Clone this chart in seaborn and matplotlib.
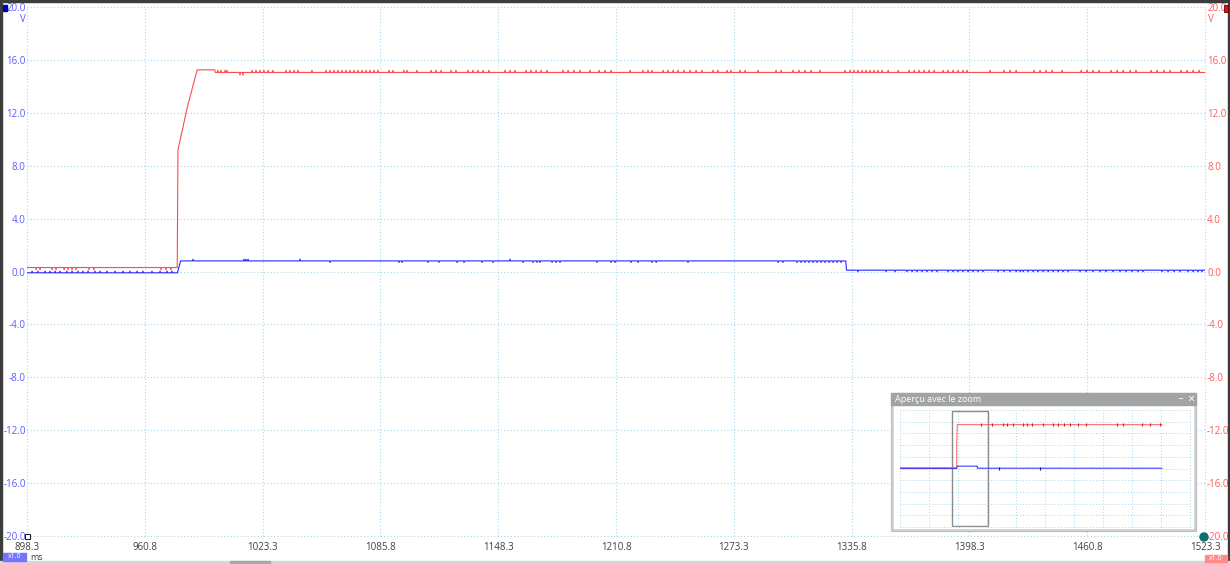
import matplotlib
matplotlib.use("Agg")
import matplotlib.pyplot as plt
import seaborn as sns
from matplotlib.patches import Rectangle, Circle

# ---- data (ms / V) ----
x_ticks = [898.3, 960.8, 1023.3, 1085.8, 1148.3, 1210.8, 1273.3, 1335.8, 1398.3, 1460.8, 1523.3]
y_ticks = [-20, -16, -12, -8, -4, 0, 4, 8, 12, 16, 20]

# channel B (red): idle level, fast rise, plateau with small glitches
red_idle = 0.3
red_idle_dips = [903.1, 905.2, 911.6, 913.7, 918.0, 920.1, 922.2, 924.3, 931.2, 933.8,
                 969.4, 972.1, 974.7]
red_ramp_t = [978.0, 978.4, 983.5, 988.6, 997.9]
red_ramp_v = [0.3, 9.2, 12.5, 15.25, 15.25]
red_level = 15.05
red_spikes = [999.6, 1001.2, 1003.4, 1004.4, 1017.7, 1019.8, 1021.9, 1024.0, 1026.2, 1028.8,
              1035.7, 1037.8, 1040.0, 1042.1, 1049.5, 1056.9, 1059.1, 1061.2, 1063.3, 1065.4,
              1067.6, 1069.7, 1071.8, 1073.9, 1076.1, 1078.2, 1080.3, 1082.4, 1084.5, 1090.4,
              1092.5, 1098.3, 1099.9, 1105.2, 1112.7, 1115.3, 1118.0, 1123.3, 1125.9, 1132.3,
              1134.9, 1137.6, 1140.3, 1143.4, 1151.9, 1154.6, 1157.2, 1163.1, 1165.7, 1168.4,
              1171.0, 1174.2, 1182.7, 1185.4, 1188.5, 1191.7, 1197.0, 1201.8, 1205.0, 1208.2,
              1218.3, 1225.1, 1227.8, 1229.9, 1235.8, 1238.4, 1241.1, 1243.7, 1246.9, 1250.1,
              1253.3, 1256.4, 1262.3, 1264.9, 1269.7, 1271.8, 1276.6, 1279.3, 1286.2, 1295.7,
              1298.4, 1304.7, 1307.9, 1311.1, 1314.3, 1319.1, 1332.3, 1335.0, 1337.1, 1339.2,
              1341.4, 1343.5, 1345.6, 1347.7, 1349.8, 1352.0, 1355.2, 1360.5, 1366.3, 1369.0,
              1371.6, 1374.3, 1376.9, 1379.6, 1384.3, 1387.0, 1389.6, 1392.3, 1394.9, 1397.1,
              1409.3, 1416.7, 1419.9, 1423.1, 1432.6, 1435.8, 1439.0, 1442.2, 1447.5, 1457.6,
              1460.7, 1463.9, 1467.1, 1473.5, 1476.7, 1479.9, 1483.6, 1486.7, 1494.7, 1497.9,
              1501.6, 1504.8, 1510.6, 1513.8, 1517.0, 1520.2]
red_dips = [1011.3, 1012.9]

# channel A (blue)
blue_idle = -0.1
blue_idle_spikes = [901.0, 904.1, 907.9, 910.5, 913.2, 915.8, 919.5, 922.2, 925.4, 928.0,
                    930.7, 934.4, 937.0, 940.7, 945.0, 949.2, 952.9, 956.7, 959.8, 964.6,
                    968.9, 972.6, 975.2]
blue_on = 0.8
blue_on_spikes = [986.4, 1013.4, 1014.5, 1015.6, 1043.2, 1154.6]
blue_on_dips = [1059.1, 1095.7, 1097.3, 1111.1, 1116.9, 1126.5, 1130.2, 1139.7, 1145.6, 1161.5,
                1166.8, 1168.9, 1170.5, 1176.9, 1179.0, 1181.1, 1200.7, 1208.2, 1210.3, 1218.8,
                1222.5, 1229.9, 1232.1, 1249.0, 1296.8, 1299.4, 1306.9, 1309.0, 1311.1, 1313.2,
                1315.4, 1317.5, 1319.6, 1321.7, 1323.9, 1326.0, 1328.1, 1330.2]
blue_rise = [978.1, 979.8]
blue_fall = [1332.7, 1333.1]
blue_off = 0.1
blue_off_dips = [1339.2, 1354.1, 1358.9, 1365.2, 1367.9, 1370.5, 1373.2, 1375.8, 1378.5, 1381.1,
                 1387.0, 1389.6, 1392.3, 1394.9, 1397.6, 1400.2, 1402.9, 1405.5, 1413.5, 1416.7,
                 1419.9, 1423.1, 1425.2, 1426.8, 1429.4, 1432.1, 1434.7, 1437.4, 1440.1, 1442.7,
                 1445.4, 1448.0, 1450.7, 1457.0, 1460.2, 1463.9, 1467.6, 1470.8, 1474.5, 1478.2,
                 1481.4, 1484.6, 1487.8, 1490.4, 1500.5, 1503.7, 1506.9, 1510.1, 1514.3, 1517.0,
                 1519.6, 1521.7]

# overview window (whole capture, 0..5000 ms)
ov_red_t = [0, 978, 979, 988, 4520]
ov_red_v = [0.3, 0.3, 9.2, 15.0, 15.0]
ov_red_spikes = [1391, 1580, 1782, 1839, 1943, 2126, 2184, 2270, 2471, 2644, 2730, 2828,
                 2931, 3075, 3207, 3736, 3851, 4167, 4310, 4483]
ov_blue_t = [0, 978, 980, 1333, 1334, 4520]
ov_blue_v = [0.0, 0.0, 0.8, 0.8, 0.1, 0.1]
ov_blue_spikes = [1713, 2414]

RED = "#ff4a4a"
BLUE = "#2828ff"
GRID = "#a9d6ec"


def glitches(t0, t1, level, events, half=0.3):
    # flat line with short glitches; events = [(time, peak), ...]
    xs, ys = [t0], [level]
    for t, p in sorted(events):
        xs += [t - half, t, t + half]
        ys += [level, p, level]
    xs.append(t1)
    ys.append(level)
    return xs, ys


rx1, ry1 = glitches(898.3, 977.9, red_idle, [(t, 0.13) for t in red_idle_dips])
rx2, ry2 = glitches(998.2, 1523.3, red_level,
                    [(t, 15.22) for t in red_spikes] + [(t, 14.85) for t in red_dips])
red_x = rx1 + red_ramp_t + rx2
red_y = ry1 + red_ramp_v + ry2

bx1, by1 = glitches(898.3, blue_rise[0], blue_idle, [(t, 0.03) for t in blue_idle_spikes])
bx2, by2 = glitches(blue_rise[1], blue_fall[0], blue_on,
                    [(t, 0.93) for t in blue_on_spikes] + [(t, 0.68) for t in blue_on_dips])
bx3, by3 = glitches(blue_fall[1], 1523.3, blue_off, [(t, -0.02) for t in blue_off_dips])
blue_x = bx1 + bx2 + bx3
blue_y = by1 + by2 + by3

sns.set_theme(style="white")
plt.rcParams["font.family"] = ["Open Sans", "DejaVu Sans"]

W, H = 1230, 564
fig = plt.figure(figsize=(12.3, 5.64), dpi=100)


def fr(x0, y0, x1, y1):
    return [x0 / W, 1 - y1 / H, (x1 - x0) / W, (y1 - y0) / H]


ax = fig.add_axes(fr(27, 7, 1205, 536))
sns.lineplot(x=red_x, y=red_y, ax=ax, color=RED, lw=0.8, sort=False, estimator=None)
sns.lineplot(x=blue_x, y=blue_y, ax=ax, color=BLUE, lw=0.8, sort=False, estimator=None)
ax.set_xlim(898.3, 1523.3)
ax.set_ylim(-20, 20)
ax.set_xticks(x_ticks)
ax.set_xticklabels([f"{v:.1f}" for v in x_ticks])
ax.set_yticks(y_ticks)
ax.set_yticklabels([f"{v:.1f}" for v in y_ticks])
ax.tick_params(axis="x", length=0, pad=4.5, labelsize=7, labelcolor="#404040")
ax.tick_params(axis="y", length=0, pad=1, labelsize=7, labelcolor="#5a5aff")
ax.grid(True, color=GRID, ls=(0, (1, 2)), lw=0.8)
for gl in ax.get_xgridlines() + ax.get_ygridlines():
    gl.set_clip_on(False)
for s in ax.spines.values():
    s.set_visible(False)
ax.set_xlabel("")
ax.set_ylabel("")

ax2 = ax.twinx()
ax2.set_ylim(-20, 20)
ax2.set_yticks(y_ticks)
ax2.set_yticklabels([f"{v:.1f}" for v in y_ticks])
ax2.tick_params(axis="y", length=0, pad=1.5, labelsize=7, labelcolor="#ff5a5a")
ax2.grid(False)
for s in ax2.spines.values():
    s.set_visible(False)

# overlay in pixel coords for the scope chrome
ov = fig.add_axes([0, 0, 1, 1], zorder=5)
ov.set_xlim(0, W)
ov.set_ylim(H, 0)
ov.axis("off")
ov.patch.set_alpha(0)

ov.add_patch(Rectangle((0, 0), W, 2, color="#3c3c3c"))
ov.add_patch(Rectangle((0, 0), 2, H, color="#3c3c3c"))
ov.add_patch(Rectangle((W - 2, 0), 2, H, color="#3c3c3c"))
ov.add_patch(Rectangle((0, H - 3), W, 3, color="#d6d6d6"))
ov.add_patch(Rectangle((230, H - 3), 40, 3, color="#a8a8a8"))

ov.add_patch(Rectangle((2.5, 5), 4.5, 6, color="#0000b4"))
ov.add_patch(Rectangle((1223.5, 5), 4.5, 7, facecolor="#e01010", edgecolor="#600000", lw=0.6))
ov.text(26, 20, "V", color="#5a5aff", fontsize=7, ha="right", va="center")
ov.text(1208, 20, "V", color="#ff5a5a", fontsize=7, ha="left", va="center")

ov.add_patch(Rectangle((25, 534), 5, 5, facecolor="white", edgecolor="#202020", lw=0.8))
ov.add_patch(Circle((1204, 537), 4, color="#0c6e6e"))

ov.add_patch(Rectangle((3, 553), 23, 8, color="#7474ff"))
ov.text(14.5, 557, "x1.0", color="white", fontsize=5, ha="center", va="center")
ov.text(30, 557.5, "ms", color="#404040", fontsize=6.5, ha="left", va="center")
ov.add_patch(Rectangle((1205, 555), 22, 7, color="#ff8a8a"))
ov.text(1216, 558.5, "x1.0", color="white", fontsize=5, ha="center", va="center")

# zoom-overview window
ov.add_patch(Rectangle((891, 393), 305, 138, facecolor="#cfcfcf", edgecolor="#bdbdbd", lw=0.8))
ov.add_patch(Rectangle((894, 406), 299, 122, color="white"))
ov.add_patch(Rectangle((891, 393), 305, 12, color="#a3a3a3"))
ov.text(895, 399, "Aperçu avec le zoom", color="white", fontsize=6.5, ha="left", va="center")
ov.text(1180, 400, "_", color="white", fontsize=7, ha="center", va="bottom")
ov.text(1190.5, 399, "×", color="white", fontsize=9, ha="center", va="center")

ins = fig.add_axes(fr(900, 410, 1190, 527), zorder=6)
ins.set_facecolor("white")
sns.lineplot(x=ov_blue_t, y=ov_blue_v, ax=ins, color="#3a3aff", lw=0.8, sort=False, estimator=None)
sns.lineplot(x=ov_red_t, y=ov_red_v, ax=ins, color="#ff3c3c", lw=0.8, alpha=0.75,
             sort=False, estimator=None)
ins.vlines(ov_red_spikes, 14.6, 15.4, color="#d02020", lw=0.8)
ins.vlines(ov_blue_spikes, -0.4, 0.5, color="#1010a0", lw=0.8)
ins.add_patch(Rectangle((898.3, -19.6), 625, 39.3, fill=False, edgecolor="#8c8c8c", lw=1.0))
ins.set_xlim(0, 5000)
ins.set_ylim(-20, 20)
ins.set_xticks([i * 500 for i in range(11)])
ins.set_yticks(y_ticks)
ins.tick_params(length=0, labelbottom=False, labelleft=False)
ins.grid(True, color=GRID, ls=(0, (1, 2)), lw=0.7)
for gl in ins.get_xgridlines() + ins.get_ygridlines():
    gl.set_clip_on(False)
for s in ins.spines.values():
    s.set_visible(False)
ins.set_xlabel("")
ins.set_ylabel("")

fig.savefig("out.png", dpi=100)
